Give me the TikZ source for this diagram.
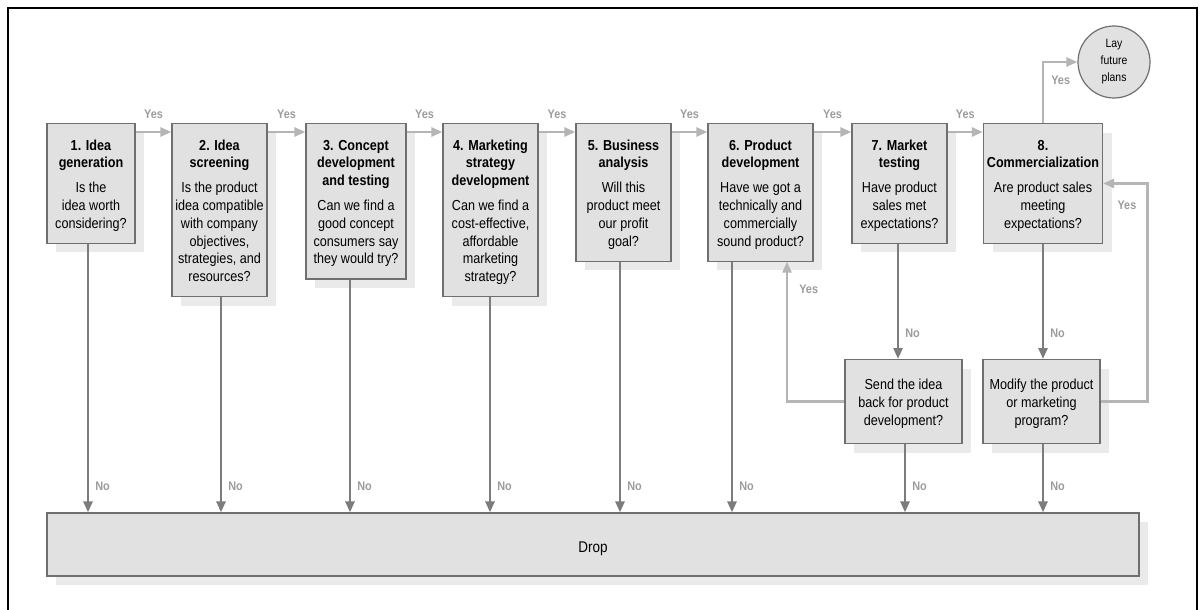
\documentclass[tikz,border=0pt]{standalone}
\usepackage{fontspec}
\setmainfont[FakeStretch=0.87]{Liberation Sans}
\usetikzlibrary{arrows.meta,shadows}
\tikzset{>={Triangle[width=9pt,length=11pt]}}
\definecolor{boxgray}{HTML}{E1E1E1}
\definecolor{shadowgray}{HTML}{EAEAEA}
\definecolor{edgegray}{HTML}{6F6F6F}
\definecolor{nogray}{HTML}{7C7C7C}
\definecolor{yesgray}{HTML}{B5B5B5}
\definecolor{labelgray}{HTML}{9C9C9C}
\tikzset{
  boxshadow/.style={drop shadow={shadow xshift=9pt,shadow yshift=-9pt,fill=shadowgray,opacity=1}},
  stage/.style={draw=edgegray, line width=1.2pt, fill=boxgray, boxshadow,
    anchor=north, align=center, inner xsep=2pt, inner ysep=12pt,
    font=\fontsize{14.5pt}{17.8pt}\selectfont},
  noline/.style={->, draw=nogray, line width=2.6pt},
  yesline/.style={->, draw=yesgray, line width=2.6pt},
  lab/.style={text=labelgray, font=\fontsize{12.5pt}{14pt}\selectfont\bfseries, inner sep=1pt},
  nolab/.style={lab, pos=1, anchor=base west, xshift=5pt, yshift=22pt}
}
%% struts on the first and last line of a box
\newcommand\topstrut{\rule{0pt}{14.5pt}}
\newcommand\botstrut{\rule[-3pt]{0pt}{3pt}}

\begin{document}
\begin{tikzpicture}[x=1pt,y=-1pt]

  \useasboundingbox (0,0) rectangle (1203,610);
  \draw[line width=2.6pt] (8,8) rectangle (1197,640); %% frame, open at the bottom

  %% the eight stages
  \node[stage, minimum width=88pt] (idea) at (91,123)
  {\topstrut\textbf{1. Idea}\\\textbf{generation}\\[7pt]Is the\\idea worth\\considering?\botstrut};
  \node[stage, minimum width=95pt] (screen) at (219.5,123)
  {\topstrut\textbf{2. Idea}\\\textbf{screening}\\[7pt]Is the product\\idea compatible\\with company\\objectives,\\strategies, and\\resources?\botstrut};
  \node[stage, minimum width=100pt] (concept) at (356,123)
  {\topstrut\textbf{3. Concept}\\\textbf{development}\\\textbf{and testing}\\[7pt]Can we find a\\good concept\\consumers say\\they would try?\botstrut};
  \node[stage, minimum width=95pt] (strategy) at (490.5,123)
  {\topstrut\textbf{4. Marketing}\\\textbf{strategy}\\\textbf{development}\\[7pt]Can we find a\\cost-effective,\\affordable\\marketing\\strategy?\botstrut};
  \node[stage, minimum width=95pt] (business) at (623.5,123)
  {\topstrut\textbf{5. Business}\\\textbf{analysis}\\[7pt]Will this\\product meet\\our profit\\goal?\botstrut};
  \node[stage, minimum width=105pt] (product) at (760.5,123)
  {\topstrut\textbf{6. Product}\\\textbf{development}\\[7pt]Have we got a\\technically and\\commercially\\sound product?\botstrut};
  \node[stage, minimum width=95pt] (market) at (899.5,123)
  {\topstrut\textbf{7. Market}\\\textbf{testing}\\[7pt]Have product\\sales met\\expectations?\botstrut};
  \node[stage, minimum width=119pt, inner xsep=1pt] (commerce) at (1043,123)
  {\topstrut\textbf{8.}\\\textbf{Commercialization}\\[7pt]Are product sales\\meeting\\expectations?\botstrut};

  %% second chances
  \node[stage, minimum width=117pt, minimum height=84pt] (resend) at (903.5,359)
  {\topstrut Send the idea\\back for product\\development?\botstrut};
  \node[stage, minimum width=117pt, minimum height=84pt] (modify) at (1041.5,359)
  {\topstrut Modify the product\\or marketing\\program?\botstrut};

  \node[circle, draw=edgegray, fill=boxgray, line width=1.2pt, minimum size=72pt,
  inner sep=0pt, align=center, font=\fontsize{12pt}{17pt}\selectfont]
  (plans) at (1114,62) {Lay\\future\\plans};

  \node[draw=edgegray, fill=boxgray, line width=1.2pt, boxshadow,
  minimum width=1092pt, minimum height=63pt,
  label={[font=\fontsize{15.5pt}{18pt}\selectfont, yshift=-4pt]center:Drop}]
  (drop) at (593,544.5) {};

  %% yes, go on
  \foreach \a/\b in {idea/screen, screen/concept, concept/strategy, strategy/business,
    business/product, product/market, market/commerce}
  \draw[yesline] ([yshift=-9pt]\a.north east) -- ([yshift=-9pt]\b.north west)
  node[lab, midway, above=11pt] {Yes};

  \draw[yesline] (commerce.north) |- (plans.west) node[lab, pos=0.35, right=6pt] {Yes};
  \draw[yesline] (resend.west) -| ([xshift=26.5pt]product.south)
  node[lab, pos=0.9, right=10pt] {Yes};
  \draw[yesline] (modify.east) -| ([xshift=44.5pt]commerce.east)
  node[lab, pos=0.95, left=9pt] {Yes} -- (commerce.east);

  %% no, drop it
  \foreach \n/\dx in {idea/-3, screen/1.5, concept/-6, strategy/-0.5,
    business/-3.5, product/-28.5}
  \draw[noline] ([xshift=\dx pt]\n.south) -- ([xshift=\dx pt]\n.south |- drop.north)
  node[nolab] {No};

  \draw[noline] ([xshift=-1.5pt]market.south) -- ([xshift=-1.5pt]market.south |- resend.north)
  node[nolab] {No};
  \draw[noline] (commerce.south) -- (commerce.south |- modify.north) node[nolab] {No};
  \draw[noline] ([xshift=1.5pt]resend.south) -- ([xshift=1.5pt]resend.south |- drop.north)
  node[nolab] {No};
  \draw[noline] ([xshift=1.5pt]modify.south) -- ([xshift=1.5pt]modify.south |- drop.north)
  node[nolab] {No};

\end{tikzpicture}
\end{document}
